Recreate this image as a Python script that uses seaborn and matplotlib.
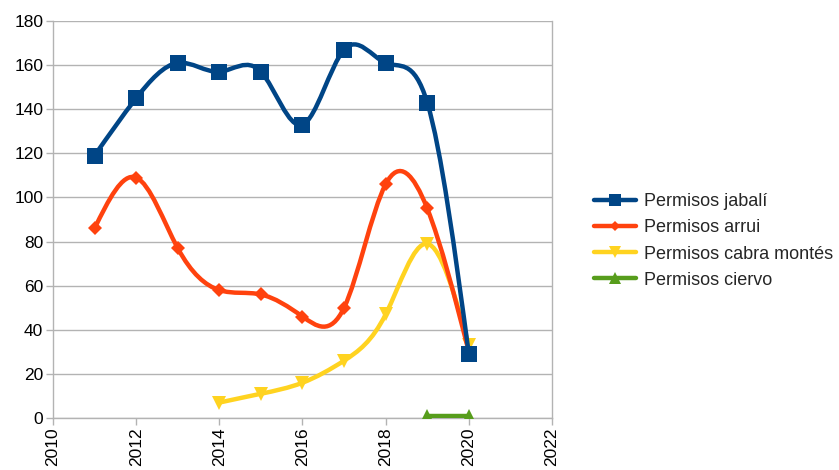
import numpy as np
import pandas as pd
import seaborn as sns
import matplotlib
matplotlib.use("Agg")
import matplotlib.pyplot as plt
from matplotlib.path import Path
from matplotlib.patches import PathPatch
from matplotlib.lines import Line2D

# ---- data ----
years_jabali = [2011, 2012, 2013, 2014, 2015, 2016, 2017, 2018, 2019, 2020]
jabali = [119, 145, 161, 157, 157, 133, 167, 161, 143, 29]
years_arrui = [2011, 2012, 2013, 2014, 2015, 2016, 2017, 2018, 2019, 2020]
arrui = [86, 109, 77, 58, 56, 46, 50, 106, 95, 30]
years_cabra = [2014, 2015, 2016, 2017, 2018, 2019, 2020]
cabra = [7, 11, 16, 26, 47, 79, 33]
years_ciervo = [2019, 2020]
ciervo = [1, 1]

labels = ["Permisos jabalí", "Permisos arrui", "Permisos cabra montés", "Permisos ciervo"]
colors = ["#004586", "#ff420e", "#ffd320", "#579d1c"]
markers = ["s", "D", "v", "^"]
msizes = [11, 7, 10, 10]
zorders = [5, 4, 3, 6]

sns.set_theme(style="white")
plt.rcParams["font.family"] = ["Liberation Sans", "DejaVu Sans"]

fig = plt.figure(figsize=(8.39, 4.70), dpi=100)
ax = fig.add_axes([53 / 839, 1 - 418 / 470, (552 - 53) / 839, (418 - 21) / 470])


def spline_path(x, y):
    """Natural cubic spline through the points, as exact Bezier segments."""
    x = np.asarray(x, float)
    y = np.asarray(y, float)
    n = len(x)
    if n < 3:
        return Path(np.column_stack([x, y]))
    h = np.diff(x)
    A = np.zeros((n, n))
    b = np.zeros(n)
    A[0, 0] = 1
    A[-1, -1] = 1
    for i in range(1, n - 1):
        A[i, i - 1] = h[i - 1]
        A[i, i] = 2 * (h[i - 1] + h[i])
        A[i, i + 1] = h[i]
        b[i] = 6 * ((y[i + 1] - y[i]) / h[i] - (y[i] - y[i - 1]) / h[i - 1])
    M = np.linalg.solve(A, b)
    d = np.zeros(n)
    for i in range(n - 1):
        d[i] = (y[i + 1] - y[i]) / h[i] - h[i] * (2 * M[i] + M[i + 1]) / 6
    d[-1] = (y[-1] - y[-2]) / h[-1] + h[-1] * (M[-2] + 2 * M[-1]) / 6
    verts = [(x[0], y[0])]
    codes = [Path.MOVETO]
    for i in range(n - 1):
        verts += [(x[i] + h[i] / 3, y[i] + d[i] * h[i] / 3),
                  (x[i + 1] - h[i] / 3, y[i + 1] - d[i + 1] * h[i] / 3),
                  (x[i + 1], y[i + 1])]
        codes += [Path.CURVE4] * 3
    return Path(verts, codes)


series = [(years_jabali, jabali), (years_arrui, arrui), (years_cabra, cabra), (years_ciervo, ciervo)]
for (xs, ys), lab, c, m, ms, z in zip(series, labels, colors, markers, msizes, zorders):
    ax.add_patch(PathPatch(spline_path(xs, ys), fill=False, edgecolor=c, lw=3.2,
                           zorder=z, capstyle="round", joinstyle="round"))
    df = pd.DataFrame({"x": xs, "y": ys})
    sns.lineplot(data=df, x="x", y="y", ax=ax, color=c, marker=m, markersize=ms,
                 markeredgewidth=0, linestyle="", zorder=z + 0.5, legend=False)

ax.set_xlim(2010, 2022)
ax.set_ylim(0, 180)
ax.set_xticks(range(2010, 2023, 2))
ax.set_yticks(range(0, 181, 20))
ax.set_xlabel("")
ax.set_ylabel("")
ax.yaxis.grid(True, color="#b3b3b3", lw=1)
ax.xaxis.grid(False)
ax.spines["top"].set_visible(False)
for s in ["left", "right", "bottom"]:
    ax.spines[s].set_color("#b3b3b3")
    ax.spines[s].set_linewidth(1)
ax.tick_params(axis="both", which="both", length=5, color="#b3b3b3", width=1,
               labelsize=12.5, labelcolor="#000000", direction="out",
               bottom=True, left=True, pad=2)
plt.setp(ax.get_xticklabels(), rotation=90)

handles = [Line2D([0], [0], color=c, lw=3.2, marker=m, markersize=ms * 0.8, markeredgewidth=0)
           for c, m, ms in zip(colors, markers, msizes)]
fig.legend(handles, labels, loc="center left", bbox_to_anchor=(594 / 839, 1 - 241 / 470),
           frameon=False, fontsize=13, handlelength=2.35, labelspacing=0.5,
           handletextpad=0.4, borderaxespad=0, borderpad=0)

fig.savefig("out.png", dpi=100)
